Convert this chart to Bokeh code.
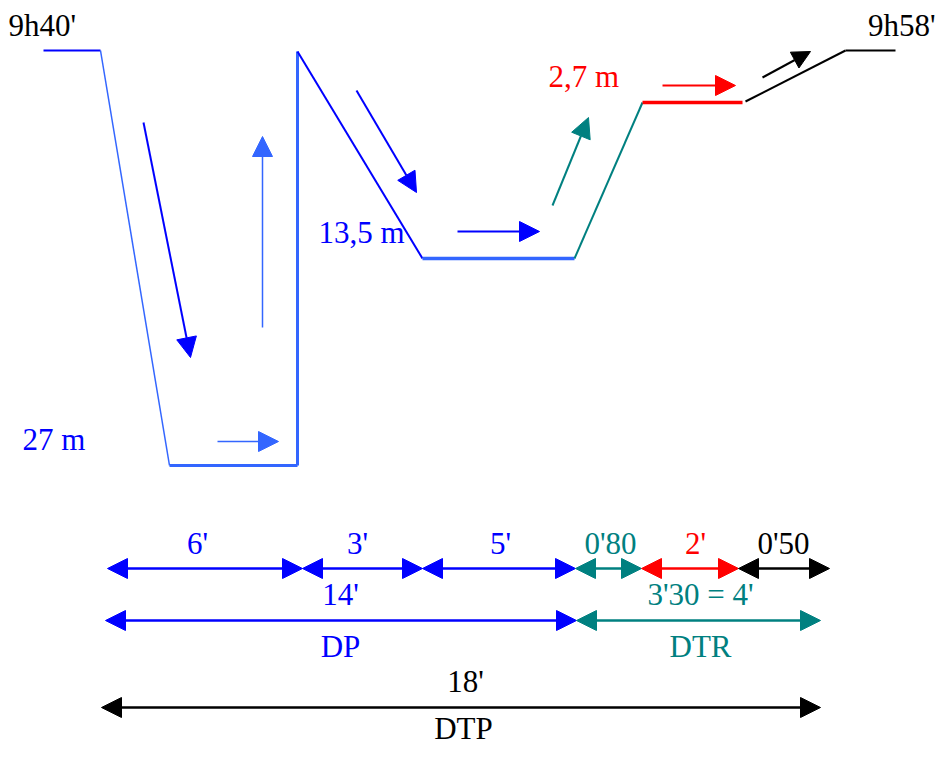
from bokeh.plotting import figure
from bokeh.models import Range1d, ColumnDataSource, Arrow, NormalHead
from bokeh.core.properties import value
from bokeh.embed import file_html
from bokeh.resources import INLINE

# ---------------- data (texts of the schematic) ----------------
time_labels = ["9h40'", "9h58'"]
depth_labels = ["27 m", "13,5 m", "2,7 m"]
step_labels = ["6'", "3'", "5'", "0'80", "2'", "0'50"]
phase_totals = ["14'", "3'30 = 4'"]
phase_names = ["DP", "DTR"]
total_label = "18'"
total_name = "DTP"

# ---------------- layout (schematic coordinates, picture pixels) ----------------
BLUE = "#0000FF"
LBLUE = "#3366FF"
TEAL = "#008080"
RED = "#FF0000"
BLACK = "#000000"
FONT = value("Liberation Serif")
DY = -11  # baseline correction of the svg text

# dive profile segments
seg_x0 = [43, 100, 169, 297, 297, 422, 574, 642, 745, 845]
seg_y0 = [50, 50, 465, 465, 51, 258, 258, 102, 101, 50]
seg_x1 = [100, 169, 297, 297, 422, 574, 642, 742, 845, 895]
seg_y1 = [50, 465, 465, 51, 258, 258, 102, 102, 50, 50]
seg_col = [BLUE, LBLUE, LBLUE, LBLUE, BLUE, LBLUE, TEAL, RED, BLACK, BLACK]
seg_w = [2, 1.5, 3, 3, 2, 3.5, 2, 3.5, 2, 2]

# direction arrows on the profile
dir_x0 = [143, 262, 217, 356, 457, 552, 662, 762]
dir_y0 = [122, 327, 441, 90, 231, 205, 85, 77]
dir_x1 = [190, 262, 278, 416, 539, 588, 735, 810]
dir_y1 = [357, 136, 441, 192, 231, 117, 85, 51]
dir_col = [BLUE, LBLUE, LBLUE, BLUE, BLUE, TEAL, RED, BLACK]
dir_w = [2, 1.5, 1.5, 2, 2, 2, 2, 2]

# profile texts
time_x = [8, 935]
time_y = [36, 36]
time_align = ["left", "right"]
depth_x = [22, 318, 548]
depth_y = [450, 243, 87]
depth_col = [BLUE, BLUE, RED]

# time line rows
row1_y = 568
row1_x = [107, 302, 422, 575, 641, 738, 829]
row1_col = [BLUE, BLUE, BLUE, TEAL, RED, BLACK]
row1_lab_x = [197, 357, 500, 610, 695, 783]
row1_lab_y = 554

row2_y = 620
row2_x = [105, 576, 820]
row2_col = [BLUE, TEAL]
row2_tot_x = [340, 700]
row2_tot_y = 605
row2_name_y = 657

row3_y = 707
row3_x = [101, 820]
row3_lab_x = 465
row3_lab_y = 692
row3_name_y = 739

# ---------------- figure ----------------
W, H = 936, 746
p = figure(width=W, height=H, x_range=Range1d(0, W), y_range=Range1d(H, 0),
           output_backend="svg", toolbar_location=None, min_border=0)
p.axis.visible = False
p.grid.visible = False
p.outline_line_color = None
p.background_fill_color = "white"
p.border_fill_color = "white"

src = ColumnDataSource(dict(x0=seg_x0, y0=seg_y0, x1=seg_x1, y1=seg_y1, c=seg_col, w=seg_w))
p.segment(x0="x0", y0="y0", x1="x1", y1="y1", line_color="c", line_width="w", source=src)


def head(c, size=20):
    return NormalHead(size=size, fill_color=c, line_color=c, line_width=1)


for i in range(len(dir_x0)):
    c = dir_col[i]
    p.add_layout(Arrow(x_start=dir_x0[i], y_start=dir_y0[i], x_end=dir_x1[i], y_end=dir_y1[i],
                       end=head(c, 18 if c == BLACK else 20), line_color=c, line_width=dir_w[i]))


def dbl(xa, xb, y, c, w=2.5):
    p.add_layout(Arrow(x_start=xa, y_start=y, x_end=xb, y_end=y,
                       start=head(c), end=head(c), line_color=c, line_width=w))


for i in range(len(row1_col)):
    dbl(row1_x[i], row1_x[i + 1], row1_y, row1_col[i])
for i in range(len(row2_col)):
    dbl(row2_x[i], row2_x[i + 1], row2_y, row2_col[i])
dbl(row3_x[0], row3_x[1], row3_y, BLACK)


def txt(xs, ys, ts, cols, align="center", size="31px"):
    p.text(x=xs, y=[v + DY for v in ys], text=ts, text_color=cols, text_font=FONT,
           text_font_size=size, text_align=align, text_baseline="alphabetic")


# texts
for i in range(2):
    txt([time_x[i]], [time_y[i]], [time_labels[i]], BLACK, align=time_align[i])
txt(depth_x, depth_y, depth_labels, depth_col, align="left")
txt(row1_lab_x, [row1_lab_y] * len(step_labels), step_labels, row1_col)
txt(row2_tot_x, [row2_tot_y] * 2, phase_totals, row2_col)
txt(row2_tot_x, [row2_name_y] * 2, phase_names, row2_col)
txt([row3_lab_x], [row3_lab_y], [total_label], BLACK)
txt([row3_lab_x - 2], [row3_name_y], [total_name], BLACK)

open("out.html", "w").write(file_html(p, INLINE))
